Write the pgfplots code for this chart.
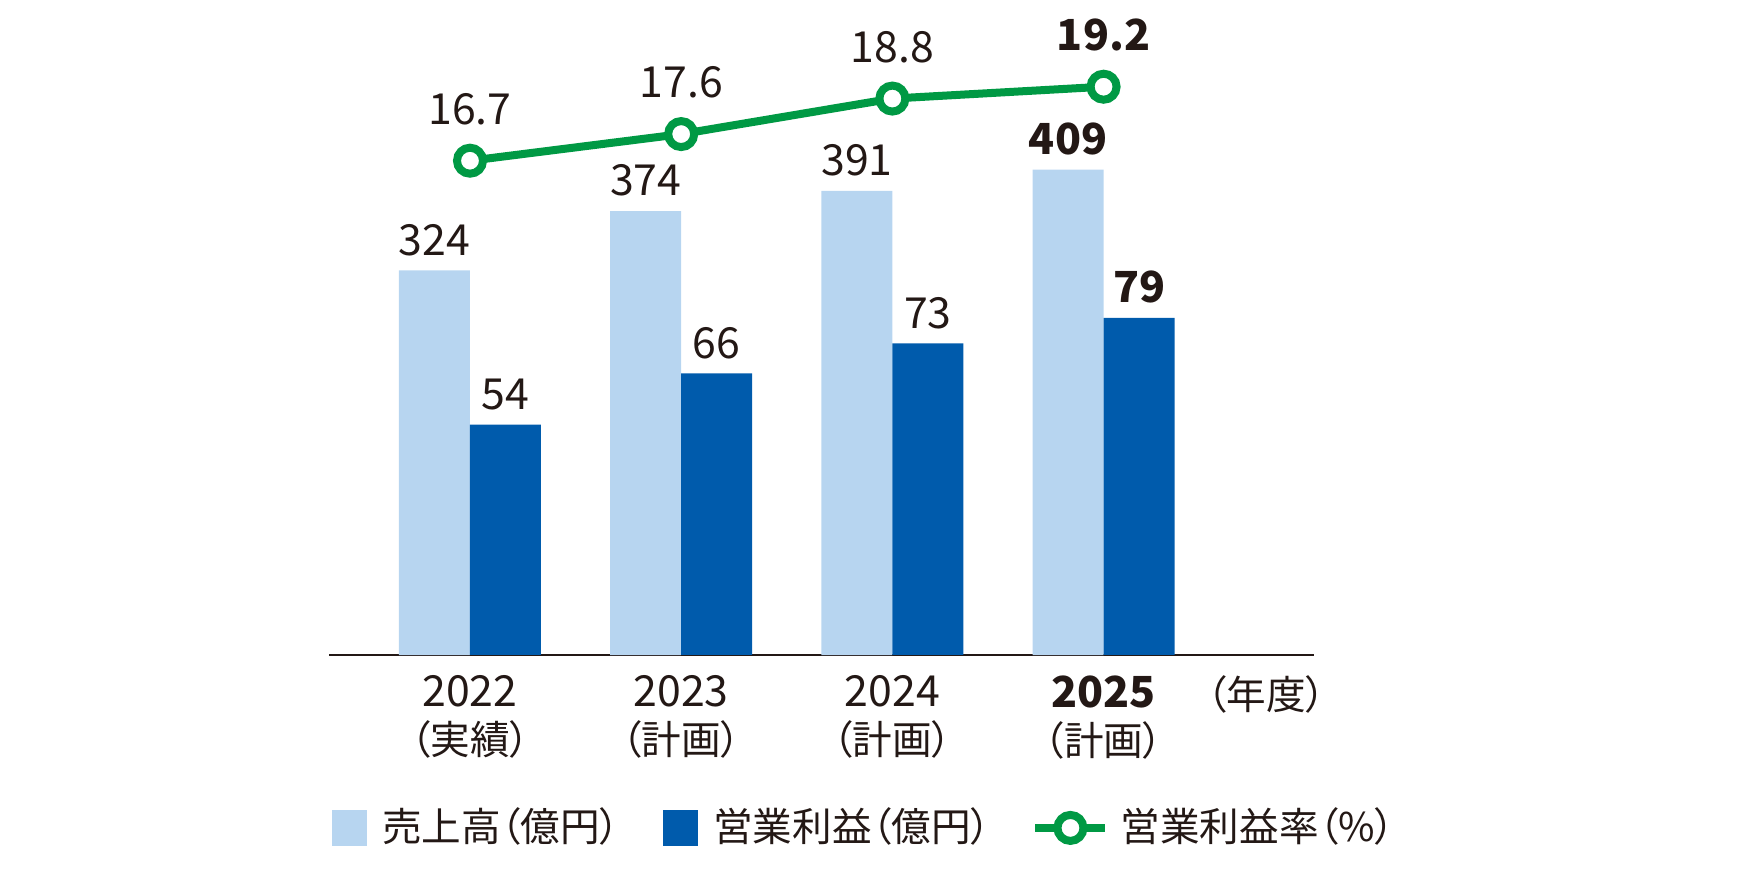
\documentclass[border=0pt]{standalone}
\usepackage{fontspec}
\setmainfont{Noto Sans CJK JP}[RawFeature={+palt}]
\usepackage{pgfplots}
\pgfplotsset{compat=1.18}
\definecolor{sales}{HTML}{B7D5F0}
\definecolor{profit}{HTML}{005BAC}
\definecolor{rate}{HTML}{009944}
\definecolor{txt}{HTML}{231815}
\newcommand\lbl{\fontsize{10.7}{12}\selectfont\color{txt}}
\newcommand\cj{\fontsize{9.9}{12}\selectfont}
\pgfplotsset{
  base/.style={scale only axis, width=246.125pt, height=163.75pt,
    xmin=-0.6676, xmax=3.994, ymin=0, anchor=south west,
    at={(82.25pt,53.5pt)}, clip=false},
}
\begin{document}
\begin{tikzpicture}
\path[use as bounding box] (0,0) rectangle (434.5pt,217.25pt);
% sales
\begin{axis}[base, ymax=551.8,
  axis x line*=bottom, axis y line=none,
  x axis line style={txt, line width=0.6pt, -},
  xtick={0,1,2,3},
  xticklabels={{2022\\{\cj （実績）}},{2023\\{\cj （計画）}},{2024\\{\cj （計画）}},{\bfseries 2025\\{\cj （計画）}}},
  major tick length=0pt,
  xticklabel style={font=\lbl, text=txt, align=center, anchor=north, inner sep=0pt, yshift=-5pt},
  extra x ticks={3.769}, extra x tick labels={{\cj （年度）}},
  extra x tick style={major tick length=0pt},
  ybar, bar width=17.75pt, bar shift=-8.875pt,
  point meta=explicit symbolic,
  nodes near coords={\pgfplotspointmeta},
  nodes near coords style={font=\lbl, text=txt, anchor=south, inner sep=0pt, yshift=3.5pt}]
\addplot[fill=sales, draw=none] coordinates {(0,324)[324] (1,374)[374] (2,391)[391] (3,409)[\bfseries 409]};
\end{axis}
% profit
\begin{axis}[base, ymax=153.5, hide axis,
  ybar, bar width=17.75pt, bar shift=8.875pt,
  point meta=explicit symbolic,
  nodes near coords={\pgfplotspointmeta},
  nodes near coords style={font=\lbl, text=txt, anchor=south, inner sep=0pt, yshift=3.5pt}]
\addplot[fill=profit, draw=none] coordinates {(0,54)[54] (1,66)[66] (2,73)[73] (3,79)[\bfseries 79]};
\end{axis}
% margin
\begin{axis}[base, ymax=22.13, hide axis,
  point meta=explicit symbolic,
  nodes near coords={\pgfplotspointmeta},
  nodes near coords style={font=\lbl, text=txt, anchor=south, inner sep=0pt, yshift=8pt},
  legend style={at={(axis description cs:0.0027,-0.264)}, anchor=west,
    draw=none, fill=none, inner sep=0pt, outer sep=0pt,
    nodes={inner sep=0pt, font=\cj, text=txt},
    /tikz/column 2/.style={column sep=10.7pt},
    /tikz/column 4/.style={column sep=10.25pt}},
  legend cell align=left, legend columns=-1]
\addlegendimage{legend image code/.code={\fill[sales] (0pt,-4.25pt) rectangle (8.5pt,4.25pt); \path (12.25pt,0pt);}}
\addlegendentry{売上高（億円）}
\addlegendimage{legend image code/.code={\fill[profit] (0pt,-4.25pt) rectangle (8.5pt,4.25pt); \path (12.25pt,0pt);}}
\addlegendentry{営業利益（億円）}
\addplot[rate, line width=2pt, mark=*, mark size=3.25pt,
  mark options={fill=white, draw=rate, line width=2pt},
  legend image code/.code={\draw[rate,line width=2pt] (0pt,0pt)--(17.5pt,0pt); \draw[rate,line width=2pt,fill=white] (8.75pt,0pt) circle (3.25pt); \path (20.3pt,0pt);}]
  coordinates {(0,16.7)[16.7] (1,17.6)[17.6] (2,18.8)[18.8] (3,19.2)[\bfseries 19.2]};
\addlegendentry{営業利益率（\%）}
\end{axis}
\end{tikzpicture}
\end{document}
